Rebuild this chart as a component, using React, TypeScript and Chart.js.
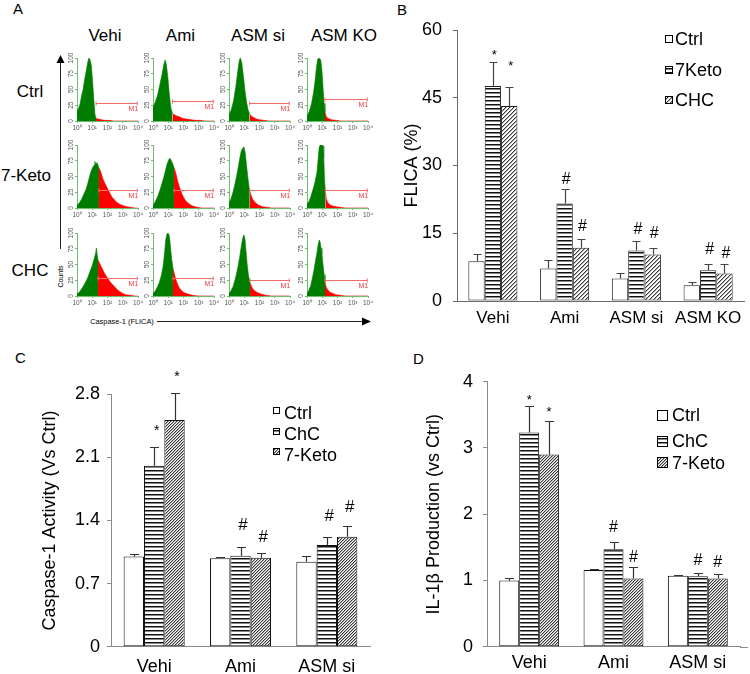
import React, { useEffect, useRef } from 'react';
import { Chart, registerables } from 'chart.js';

Chart.register(...registerables);

const FONT = '"Liberation Sans", Arial, Helvetica, sans-serif';
Chart.defaults.font.family = FONT;

// ---------------- Panel A: flow cytometry histograms ----------------
const A_COLUMNS = ['Vehi', 'Ami', 'ASM si', 'ASM KO'];
const A_ROWS = ['Ctrl', '7-Keto', 'CHC'];
const A_X_TICKS = ['10⁰', '10¹', '10²', '10³', '10⁴'];
const A_Y_TICKS = [0, 25, 50, 75, 100];

// [log10 decade, counts]
const H_VEHI_CTRL = [[0, 15], [0.1, 20], [0.2, 27], [0.3, 40], [0.4, 50], [0.5, 66], [0.6, 79], [0.7, 93], [0.78, 100], [0.86, 97], [0.94, 88], [1.02, 64], [1.1, 35], [1.18, 10], [1.25, 4], [1.4, 3], [1.6, 2], [1.8, 1], [2.1, 1], [2.4, 0], [4, 0]];
const H_AMI_CTRL = [[0, 22], [0.15, 30], [0.3, 41], [0.45, 58], [0.6, 75], [0.72, 91], [0.8, 97], [0.88, 89], [0.98, 68], [1.08, 40], [1.18, 20], [1.28, 12], [1.4, 10], [1.55, 8], [1.7, 7], [1.85, 5], [2.0, 4], [2.2, 3], [2.5, 2], [2.8, 1], [3.1, 1], [3.4, 0], [4, 0]];
const H_ASI_CTRL = [[0, 10], [0.15, 18], [0.3, 32], [0.45, 55], [0.58, 80], [0.68, 97], [0.75, 100], [0.84, 92], [0.95, 70], [1.05, 48], [1.15, 30], [1.25, 18], [1.35, 11], [1.5, 7], [1.65, 5], [1.8, 3], [2.0, 2], [2.3, 1], [2.6, 0], [4, 0]];
const H_AKO_CTRL = [[0, 8], [0.15, 15], [0.3, 28], [0.42, 44], [0.52, 62], [0.62, 85], [0.7, 98], [0.8, 100], [0.9, 97], [0.98, 80], [1.06, 50], [1.12, 28], [1.18, 14], [1.28, 6], [1.4, 4], [1.6, 2], [1.9, 1], [2.2, 0], [4, 0]];

const H_VEHI_7K = [[0, 4], [0.15, 8], [0.3, 14], [0.45, 22], [0.6, 30], [0.72, 40], [0.82, 50], [0.92, 58], [1.02, 64], [1.12, 68], [1.17, 74], [1.22, 70], [1.32, 72], [1.44, 64], [1.55, 58], [1.7, 46], [1.85, 38], [2.0, 31], [2.15, 24], [2.3, 17], [2.45, 13], [2.6, 9], [2.8, 6], [3.0, 4], [3.25, 2], [3.5, 1], [3.8, 0], [4, 0]];
const H_AMI_7K = [[0, 4], [0.15, 10], [0.3, 18], [0.45, 28], [0.6, 40], [0.72, 50], [0.84, 62], [0.94, 71], [1.04, 77], [1.12, 79], [1.22, 74], [1.3, 70], [1.38, 64], [1.5, 55], [1.62, 42], [1.75, 32], [1.9, 22], [2.05, 15], [2.2, 10], [2.4, 6], [2.6, 3], [2.9, 1], [3.2, 0], [4, 0]];
const H_ASI_7K = [[0, 8], [0.12, 14], [0.25, 24], [0.35, 34], [0.48, 48], [0.6, 64], [0.7, 78], [0.8, 90], [0.9, 95], [0.98, 97], [1.06, 88], [1.14, 70], [1.22, 52], [1.3, 36], [1.36, 27], [1.45, 20], [1.55, 14], [1.7, 9], [1.85, 6], [2.0, 4], [2.2, 2], [2.5, 1], [2.8, 0], [4, 0]];
const H_AKO_7K = [[0, 6], [0.12, 10], [0.25, 18], [0.35, 26], [0.45, 34], [0.55, 44], [0.65, 56], [0.72, 75], [0.8, 96], [0.86, 100], [0.95, 100], [1.05, 99], [1.1, 80], [1.15, 45], [1.2, 28], [1.26, 15], [1.35, 9], [1.5, 5], [1.7, 3], [1.9, 2], [2.2, 1], [2.5, 0], [4, 0]];

const H_VEHI_CHC = [[0, 3], [0.15, 6], [0.3, 11], [0.45, 17], [0.6, 24], [0.72, 30], [0.85, 39], [0.98, 47], [1.08, 55], [1.16, 62], [1.22, 68], [1.27, 76], [1.32, 66], [1.38, 57], [1.48, 52], [1.6, 46], [1.72, 40], [1.85, 34], [2.0, 29], [2.15, 23], [2.3, 19], [2.45, 15], [2.6, 11], [2.8, 7], [3.0, 4], [3.2, 2], [3.5, 1], [3.8, 0], [4, 0]];
const H_AMI_CHC = [[0, 4], [0.15, 8], [0.3, 15], [0.42, 22], [0.55, 33], [0.66, 47], [0.75, 66], [0.83, 88], [0.9, 97], [0.97, 100], [1.04, 98], [1.1, 90], [1.16, 74], [1.22, 60], [1.31, 44], [1.4, 35], [1.5, 26], [1.62, 18], [1.75, 12], [1.9, 8], [2.05, 5], [2.3, 3], [2.6, 1], [3.0, 0], [4, 0]];
const H_ASI_CHC = [[0, 4], [0.12, 8], [0.25, 14], [0.35, 22], [0.48, 34], [0.6, 48], [0.7, 62], [0.8, 78], [0.9, 92], [0.98, 97], [1.05, 90], [1.12, 70], [1.2, 48], [1.28, 32], [1.38, 21], [1.48, 15], [1.6, 10], [1.75, 7], [1.9, 5], [2.1, 3], [2.4, 1], [2.8, 0], [4, 0]];
const H_AKO_CHC = [[0, 4], [0.12, 9], [0.25, 17], [0.35, 28], [0.45, 40], [0.55, 55], [0.65, 68], [0.72, 80], [0.8, 89], [0.86, 86], [0.92, 76], [0.98, 66], [1.05, 50], [1.12, 34], [1.18, 22], [1.26, 14], [1.36, 10], [1.5, 6], [1.7, 4], [1.9, 2], [2.2, 1], [2.5, 0], [4, 0]];

const A_HISTS = [
  [H_VEHI_CTRL, H_AMI_CTRL, H_ASI_CTRL, H_AKO_CTRL],
  [H_VEHI_7K, H_AMI_7K, H_ASI_7K, H_AKO_7K],
  [H_VEHI_CHC, H_AMI_CHC, H_ASI_CHC, H_AKO_CHC],
];
const A_GATES = [
  [1.25, 1.28, 1.35, 1.18],
  [1.44, 1.38, 1.36, 1.2],
  [1.38, 1.31, 1.38, 1.18],
];
const A_M1_LEVEL = [
  [29, 32, 29, 35],
  [29, 29, 29, 29],
  [29, 29, 26, 26],
];
const A_M1_END = 3.95;

// ---------------- Panel B ----------------
const B_CATEGORIES = ['Vehi', 'Ami', 'ASM si', 'ASM KO'];
const B_NAMES = ['Ctrl', '7Keto', 'CHC'];
const B_CTRL = [8.8, 7.2, 5.0, 3.5];
const B_CTRL_ERR = [10.3, 9.1, 6.3, 4.2];
const B_7KETO = [47.6, 21.6, 11.2, 6.8];
const B_7KETO_ERR = [53.0, 24.9, 13.3, 8.1];
const B_CHC = [43.2, 11.8, 10.3, 6.1];
const B_CHC_ERR = [47.4, 13.8, 11.8, 8.1];
const B_7KETO_MARKS = ['*', '#', '#', '#'];
const B_7KETO_MARK_AT = [55.3, 27.2, 16.2, 11.7];
const B_CHC_MARKS = ['*', '#', '#', '#'];
const B_CHC_MARK_AT = [52.9, 16.8, 15.1, 10.8];

// ---------------- Panel C ----------------
const C_CATEGORIES = ['Vehi', 'Ami', 'ASM si'];
const C_NAMES = ['Ctrl', 'ChC', '7-Keto'];
const C_CTRL = [1.0, 0.98, 0.943];
const C_CTRL_ERR = [1.03, 0.99, 1.006];
const C_CHC = [2.008, 1.01, 1.128];
const C_CHC_ERR = [2.21, 1.11, 1.22];
const C_7KETO = [2.515, 0.987, 1.22];
const C_7KETO_ERR = [2.81, 1.036, 1.34];
const C_CHC_MARKS = ['*', '#', '#'];
const C_CHC_MARK_AT = [2.44, 1.36, 1.46];
const C_7KETO_MARKS = ['*', '#', '#'];
const C_7KETO_MARK_AT = [3.04, 1.23, 1.56];

// ---------------- Panel D ----------------
const D_CATEGORIES = ['Vehi', 'Ami', 'ASM si'];
const D_NAMES = ['Ctrl', 'ChC', '7-Keto'];
const D_CTRL = [1.0, 1.157, 1.07];
const D_CTRL_ERR = [1.03, 1.18, 1.08];
const D_CHC = [3.235, 1.47, 1.065];
const D_CHC_ERR = [3.63, 1.575, 1.11];
const D_7KETO = [2.9, 1.03, 1.03];
const D_7KETO_ERR = [3.41, 1.2, 1.1];
const D_CHC_MARKS = ['*', '#', '#'];
const D_CHC_MARK_AT = [3.77, 1.81, 1.32];
const D_7KETO_MARKS = ['*', '#', '#'];
const D_7KETO_MARK_AT = [3.59, 1.36, 1.29];

const NONE = ['', '', '', ''];

// ---------------- helpers ----------------
const A_GREEN = '#007d00';
const A_RED = '#ff0000';
const A_AXIS = '#6cbf6c';

function stripePattern(period: number) {
  const c = document.createElement('canvas');
  c.width = 4;
  c.height = period;
  const g = c.getContext('2d')!;
  g.fillStyle = '#fff';
  g.fillRect(0, 0, 4, period);
  g.fillStyle = '#111';
  g.fillRect(0, 0, 4, 1);
  g.fillStyle = '#888';
  g.fillRect(0, 1, 4, 1);
  return g.createPattern(c, 'repeat')!;
}

function hatchPattern(period: number) {
  const n = period * 4;
  const c = document.createElement('canvas');
  c.width = n;
  c.height = n;
  const g = c.getContext('2d')!;
  const img = g.createImageData(n, n);
  for (let y = 0; y < n; y++) {
    for (let x = 0; x < n; x++) {
      const k = (x + y) % period;
      const v = k === 0 ? 55 : k === 1 ? 175 : 255;
      const i = (y * n + x) * 4;
      img.data[i] = v;
      img.data[i + 1] = v;
      img.data[i + 2] = v;
      img.data[i + 3] = 255;
    }
  }
  g.putImageData(img, 0, 0);
  return g.createPattern(c, 'repeat')!;
}

type BarSeries = { label: string; values: number[]; err: number[]; fill: string; marks: string[]; markAt: number[] };

type BarCfg = {
  categories: string[];
  series: BarSeries[];
  yMax: number;
  yStep: number;
  yTitle: string;
  padTop: number;
  padRight: number;
  yAxisW: number;
  xAxisH: number;
  tickFont: number;
  catFont: number;
  titleFont: number;
  titlePad: number;
  yTickPad: number;
  tickLen: number;
  xTickPad: number;
  catPct: number;
  axisColor: string;
  edgeColor: string;
  stripePeriod: number;
  hatchPeriod: number;
  errColor: string;
  errCap: number;
  errWidth: number;
  starSize: number;
  hashSize: number;
  markDx: number;
  legend: { boxX: number; box: number; textX: number; cys: number[]; font: number; align: string };
  axisExtend: number;
};

function makeBar(canvas: HTMLCanvasElement, cfg: BarCfg) {
  const fills = cfg.series.map((s) =>
    s.fill === 'stripes' ? stripePattern(cfg.stripePeriod) : s.fill === 'hatch' ? hatchPattern(cfg.hatchPeriod) : '#ffffff'
  );
  const overlay = {
    id: 'barOverlay',
    afterDatasetsDraw(chart: any) {
      const ctx = chart.ctx;
      const ys = chart.scales.y;
      ctx.save();
      cfg.series.forEach((s, di) => {
        const meta = chart.getDatasetMeta(di);
        meta.data.forEach((bar: any, i: number) => {
          const x = Math.round(bar.x) + 0.5;
          const yTop = ys.getPixelForValue(s.values[i]);
          const yErr = Math.round(ys.getPixelForValue(s.err[i])) + 0.5;
          ctx.strokeStyle = cfg.errColor;
          ctx.lineWidth = cfg.errWidth;
          ctx.beginPath();
          ctx.moveTo(x, yTop);
          ctx.lineTo(x, yErr);
          ctx.moveTo(x - cfg.errCap, yErr);
          ctx.lineTo(x + cfg.errCap, yErr);
          ctx.stroke();
          const m = s.marks[i];
          if (m) {
            const size = m === '*' ? cfg.starSize : cfg.hashSize;
            const cy = ys.getPixelForValue(s.markAt[i]);
            ctx.fillStyle = '#000';
            ctx.font = `${size}px ${FONT}`;
            ctx.textAlign = 'center';
            ctx.textBaseline = 'alphabetic';
            ctx.fillText(m, bar.x + cfg.markDx, cy + (m === '*' ? 0.58 : 0.355) * size);
          }
        });
      });
      const L = cfg.legend;
      cfg.series.forEach((s, i) => {
        const cy = L.cys[i];
        const top = Math.round(L.align === 'center' ? cy - L.box / 2 : cy - 0.358 * L.font);
        ctx.fillStyle = fills[i];
        ctx.fillRect(L.boxX, top, L.box, L.box);
        ctx.strokeStyle = '#000';
        ctx.lineWidth = 1;
        ctx.strokeRect(L.boxX + 0.5, top + 0.5, L.box - 1, L.box - 1);
        ctx.fillStyle = '#000';
        ctx.font = `${L.font}px ${FONT}`;
        ctx.textAlign = 'left';
        ctx.textBaseline = 'alphabetic';
        ctx.fillText(s.label, L.textX, cy + 0.358 * L.font);
      });
      if (cfg.axisExtend > 0) {
        const a = chart.chartArea;
        const yb = Math.round(a.bottom) + 0.5;
        ctx.strokeStyle = cfg.axisColor;
        ctx.lineWidth = 1;
        ctx.beginPath();
        ctx.moveTo(a.right, yb);
        ctx.lineTo(a.right + cfg.axisExtend, yb);
        ctx.stroke();
      }
      ctx.restore();
    },
  };
  return new Chart(canvas, {
    type: 'bar',
    data: {
      labels: cfg.categories,
      datasets: cfg.series.map((s, i) => ({
        label: s.label,
        data: s.values,
        backgroundColor: fills[i],
        borderColor: cfg.edgeColor,
        borderWidth: 1,
        borderSkipped: false,
        categoryPercentage: cfg.catPct,
        barPercentage: 1,
      })),
    },
    options: {
      animation: false,
      responsive: false,
      devicePixelRatio: 1,
      layout: { padding: { left: 0, top: cfg.padTop, right: cfg.padRight, bottom: 0 } },
      plugins: { legend: { display: false }, tooltip: { enabled: false } },
      scales: {
        x: {
          grid: { display: false, drawTicks: false },
          border: { display: true, color: cfg.axisColor, width: 1 },
          ticks: { color: '#000', font: { size: cfg.catFont, family: FONT }, padding: cfg.xTickPad, maxRotation: 0, autoSkip: false },
          afterFit: (s: any) => {
            s.height = cfg.xAxisH;
          },
        },
        y: {
          min: 0,
          max: cfg.yMax,
          ticks: { stepSize: cfg.yStep, color: '#000', font: { size: cfg.tickFont, family: FONT }, padding: cfg.yTickPad },
          grid: { display: true, drawOnChartArea: false, drawTicks: true, tickLength: cfg.tickLen, color: cfg.axisColor },
          border: { display: true, color: cfg.axisColor, width: 1 },
          title: {
            display: true,
            text: cfg.yTitle,
            color: '#000',
            font: { size: cfg.titleFont, family: FONT },
            padding: { top: cfg.titlePad, bottom: 0 },
          },
          afterFit: (s: any) => {
            s.width = cfg.yAxisW;
          },
        },
      },
    } as any,
    plugins: [overlay],
  });
}

function makeHist(canvas: HTMLCanvasElement, pts: number[][], gate: number, m1: number) {
  const green = pts.filter((p) => p[0] <= gate).map((p) => ({ x: p[0], y: p[1] }));
  const red = pts.filter((p) => p[0] >= gate).map((p) => ({ x: p[0], y: p[1] }));
  const deco = {
    id: 'histDeco',
    afterDraw(chart: any) {
      const ctx = chart.ctx;
      const xs = chart.scales.x;
      const ys = chart.scales.y;
      const a = chart.chartArea;
      ctx.save();
      ctx.fillStyle = '#555';
      ctx.font = `6.5px ${FONT}`;
      ctx.textAlign = 'center';
      ctx.textBaseline = 'middle';
      A_Y_TICKS.forEach((v) => {
        ctx.save();
        ctx.translate(a.left - 6, ys.getPixelForValue(v));
        ctx.rotate(-Math.PI / 2);
        ctx.fillText(String(v), 0, 0);
        ctx.restore();
      });
      A_X_TICKS.forEach((t, i) => {
        ctx.fillText(t, xs.getPixelForValue(i), a.bottom + 7.5);
      });
      const y = Math.round(ys.getPixelForValue(m1)) + 0.5;
      const x0 = xs.getPixelForValue(gate);
      const x1 = xs.getPixelForValue(A_M1_END);
      ctx.strokeStyle = '#f26a6a';
      ctx.lineWidth = 1;
      ctx.beginPath();
      ctx.moveTo(x0, y);
      ctx.lineTo(x1, y);
      ctx.moveTo(x0, y - 2);
      ctx.lineTo(x0, y + 2);
      ctx.moveTo(x1, y - 2);
      ctx.lineTo(x1, y + 2);
      ctx.stroke();
      ctx.fillStyle = '#f03a3a';
      ctx.font = `7px ${FONT}`;
      ctx.textAlign = 'right';
      ctx.textBaseline = 'middle';
      ctx.fillText('M1', x1 + 1, y + 6);
      ctx.restore();
    },
  };
  return new Chart(canvas, {
    type: 'line',
    data: {
      datasets: [
        { data: green, fill: 'origin', backgroundColor: A_GREEN, borderColor: A_GREEN, borderWidth: 0.6, pointRadius: 0, tension: 0 },
        { data: red, fill: 'origin', backgroundColor: A_RED, borderColor: A_RED, borderWidth: 0.6, pointRadius: 0, tension: 0 },
      ],
    },
    options: {
      animation: false,
      responsive: false,
      devicePixelRatio: 1,
      layout: { padding: { left: 0, top: 8, right: 10, bottom: 0 } },
      plugins: { legend: { display: false }, tooltip: { enabled: false } },
      scales: {
        x: {
          type: 'linear',
          min: 0,
          max: 4,
          ticks: { display: false, stepSize: 1 },
          grid: { display: true, drawOnChartArea: false, tickLength: 2, color: A_AXIS },
          border: { display: true, color: A_AXIS },
          afterFit: (s: any) => {
            s.height = 16;
          },
        },
        y: {
          min: 0,
          max: 100,
          ticks: { display: false, stepSize: 25 },
          grid: { display: true, drawOnChartArea: false, tickLength: 2, color: A_AXIS },
          border: { display: true, color: A_AXIS },
          afterFit: (s: any) => {
            s.width = 18;
          },
        },
      },
    } as any,
    plugins: [deco],
  });
}

function ChartBox({ left, top, width, height, make }: { left: number; top: number; width: number; height: number; make: (c: HTMLCanvasElement) => Chart }) {
  const ref = useRef<HTMLCanvasElement>(null);
  useEffect(() => {
    const ch = make(ref.current!);
    return () => ch.destroy();
  }, []);
  return <canvas ref={ref} width={width} height={height} style={{ position: 'absolute', left, top, width, height }} />;
}

function Label({ x, cy, size, text, align = 'center', rotate = false }: { x: number; cy: number; size: number; text: string; align?: string; rotate?: boolean }) {
  const style: any = {
    position: 'absolute',
    left: x,
    top: cy - 0.49 * size,
    fontFamily: FONT,
    fontSize: size,
    lineHeight: `${size}px`,
    whiteSpace: 'nowrap',
    color: '#000',
  };
  if (rotate) {
    style.transform = 'translate(-50%, 0) rotate(-90deg)';
  } else if (align === 'center') {
    style.transform = 'translateX(-50%)';
  }
  return <div style={style}>{text}</div>;
}

// ---------------- layout constants ----------------
const HIST_LEFTS = [77, 153, 229, 307];
const HIST_TOPS = [58, 145, 233];
const HIST_W = 61;
const HIST_H = 63;

const B_CFG: BarCfg = {
  categories: B_CATEGORIES,
  series: [
    { label: B_NAMES[0], values: B_CTRL, err: B_CTRL_ERR, fill: 'plain', marks: NONE, markAt: [] },
    { label: B_NAMES[1], values: B_7KETO, err: B_7KETO_ERR, fill: 'stripes', marks: B_7KETO_MARKS, markAt: B_7KETO_MARK_AT },
    { label: B_NAMES[2], values: B_CHC, err: B_CHC_ERR, fill: 'hatch', marks: B_CHC_MARKS, markAt: B_CHC_MARK_AT },
  ],
  yMax: 60,
  yStep: 15,
  yTitle: 'FLICA (%)',
  padTop: 30,
  padRight: 6,
  yAxisW: 77,
  xAxisH: 29,
  tickFont: 18,
  catFont: 17,
  titleFont: 18,
  titlePad: 21,
  yTickPad: 11,
  tickLen: 4,
  xTickPad: 7,
  catPct: 0.684,
  axisColor: '#6a6a6a',
  edgeColor: '#222',
  stripePeriod: 4,
  hatchPeriod: 4,
  errColor: '#444',
  errCap: 4,
  errWidth: 1.2,
  starSize: 13,
  hashSize: 16,
  markDx: 1.5,
  legend: { boxX: 285, box: 8, textX: 295, cys: [38.5, 70, 100], font: 18, align: 'center' },
  axisExtend: 0,
};

const C_CFG: BarCfg = {
  categories: C_CATEGORIES,
  series: [
    { label: C_NAMES[0], values: C_CTRL, err: C_CTRL_ERR, fill: 'plain', marks: NONE, markAt: [] },
    { label: C_NAMES[1], values: C_CHC, err: C_CHC_ERR, fill: 'stripes', marks: C_CHC_MARKS, markAt: C_CHC_MARK_AT },
    { label: C_NAMES[2], values: C_7KETO, err: C_7KETO_ERR, fill: 'hatch', marks: C_7KETO_MARKS, markAt: C_7KETO_MARK_AT },
  ],
  yMax: 2.8,
  yStep: 0.7,
  yTitle: 'Caspase-1 Activity (Vs Ctrl)',
  padTop: 64.3,
  padRight: 10,
  yAxisW: 111,
  xAxisH: 27.3,
  tickFont: 18,
  catFont: 18,
  titleFont: 18,
  titlePad: 39,
  yTickPad: 7,
  tickLen: 4,
  xTickPad: 9.5,
  catPct: 0.707,
  axisColor: '#8a8a8a',
  edgeColor: '#111',
  stripePeriod: 4,
  hatchPeriod: 3,
  errColor: '#333',
  errCap: 4.5,
  errWidth: 1.2,
  starSize: 14,
  hashSize: 17,
  markDx: 2.5,
  legend: { boxX: 273, box: 7, textX: 284, cys: [83, 104, 124.5], font: 18, align: 'top' },
  axisExtend: 0,
};

const D_CFG: BarCfg = {
  categories: D_CATEGORIES,
  series: [
    { label: D_NAMES[0], values: D_CTRL, err: D_CTRL_ERR, fill: 'plain', marks: NONE, markAt: [] },
    { label: D_NAMES[1], values: D_CHC, err: D_CHC_ERR, fill: 'stripes', marks: D_CHC_MARKS, markAt: D_CHC_MARK_AT },
    { label: D_NAMES[2], values: D_7KETO, err: D_7KETO_ERR, fill: 'hatch', marks: D_7KETO_MARKS, markAt: D_7KETO_MARK_AT },
  ],
  yMax: 4,
  yStep: 1,
  yTitle: 'IL-1β Production (vs Ctrl)',
  padTop: 51.7,
  padRight: 10,
  yAxisW: 107,
  xAxisH: 27.3,
  tickFont: 18,
  catFont: 18,
  titleFont: 18,
  titlePad: 43,
  yTickPad: 10,
  tickLen: 4,
  xTickPad: 6,
  catPct: 0.71,
  axisColor: '#8a8a8a',
  edgeColor: '#111',
  stripePeriod: 4,
  hatchPeriod: 3,
  errColor: '#333',
  errCap: 4.5,
  errWidth: 1.2,
  starSize: 13,
  hashSize: 16,
  markDx: 0,
  legend: { boxX: 277, box: 11, textX: 292, cys: [85, 111, 132.5], font: 18, align: 'center' },
  axisExtend: 8,
};

export default function App() {
  const cells: any[] = [];
  A_HISTS.forEach((row, r) => {
    row.forEach((pts, c) => {
      const L = HIST_LEFTS[c];
      const T = HIST_TOPS[r];
      cells.push(
        <ChartBox
          key={`h${r}${c}`}
          left={L - 18}
          top={T - 8}
          width={HIST_W + 28}
          height={HIST_H + 24}
          make={(cv) => makeHist(cv, pts, A_GATES[r][c], A_M1_LEVEL[r][c])}
        />
      );
    });
  });
  const colCenters = [105, 180.5, 258, 344];
  const rowCys = [91.5, 175, 270];
  const rowCenters = [30, 26, 30];
  return (
    <div style={{ position: 'absolute', left: 0, top: 0, width: 750, height: 674, background: '#fff', overflow: 'hidden' }}>
      <svg style={{ position: 'absolute', left: 0, top: 0 }} width={750} height={674}>
        <line x1={60.5} y1={249} x2={60.5} y2={62} stroke="#222" strokeWidth={1} />
        <polygon points="60.5,55 56.5,63 64.5,63" fill="#000" />
        <line x1={157} y1={321.5} x2={363} y2={321.5} stroke="#222" strokeWidth={1} />
        <polygon points="371,321.5 362,317.5 362,325.5" fill="#000" />
      </svg>
      <Label x={13} cy={8.5} size={15} text="A" align="left" />
      <Label x={397} cy={9} size={15} text="B" align="left" />
      <Label x={15} cy={357.5} size={15} text="C" align="left" />
      <Label x={413} cy={358} size={15} text="D" align="left" />
      {A_COLUMNS.map((t, i) => (
        <Label key={`c${i}`} x={colCenters[i]} cy={35.5} size={17} text={t} />
      ))}
      {A_ROWS.map((t, i) => (
        <Label key={`r${i}`} x={rowCenters[i]} cy={rowCys[i]} size={17} text={t} />
      ))}
      <Label x={60} cy={276} size={7} text="Counts" rotate />
      <Label x={122} cy={321.5} size={7.4} text="Caspase-1 (FLICA)" />
      {cells}
      <ChartBox left={380} top={0} width={370} height={330} make={(cv) => makeBar(cv, B_CFG)} />
      <ChartBox left={0} top={330} width={380} height={344} make={(cv) => makeBar(cv, C_CFG)} />
      <ChartBox left={380} top={330} width={370} height={344} make={(cv) => makeBar(cv, D_CFG)} />
    </div>
  );
}
